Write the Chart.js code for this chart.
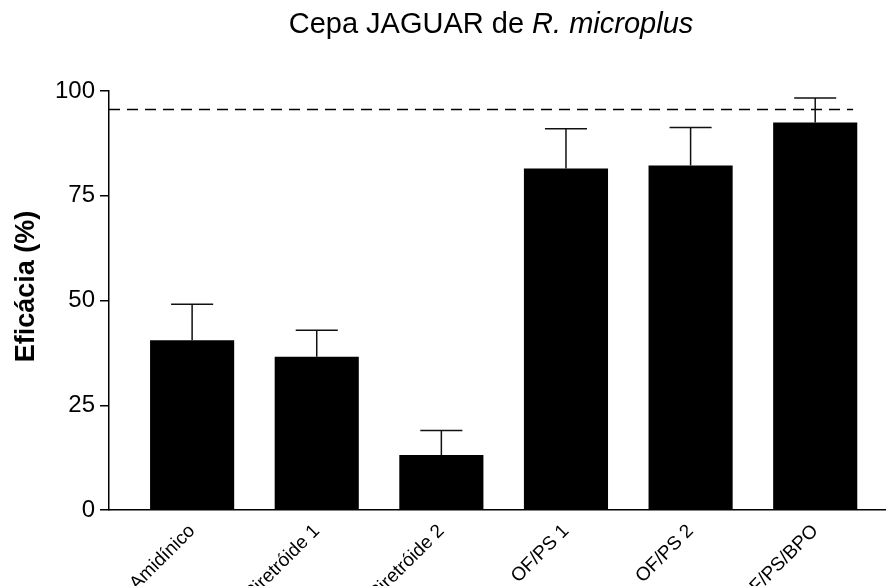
<!DOCTYPE html>
<html>
<head>
<meta charset="utf-8">
<script src="https://cdn.jsdelivr.net/npm/chart.js@4"></script>
<style>
  html, body { margin: 0; padding: 0; background: #fff; }
  #wrap { width: 887px; height: 586px; }
</style>
</head>
<body>
<div id="wrap"><canvas id="eficaciaChart"></canvas></div>
<script>
// dados: eficácia média (%) e desvio (só a barra superior)
const categorias = ['Amidínico', 'Piretróide 1', 'Piretróide 2', 'OF/PS 1', 'OF/PS 2', 'OF/PS/BPO'];
const eficacia = [40.5, 36.6, 13.1, 81.5, 82.2, 92.5];
const desvio = [8.6, 6.3, 5.9, 9.5, 9.1, 5.8];
const yTicks = [0, 25, 50, 75, 100];
const limiar = 95.6;

const FONTE = '"Liberation Sans", Arial, Helvetica, sans-serif';

// barras de erro, linha tracejada, títulos
const extras = {
  id: 'extras',
  afterDatasetsDraw(chart) {
    const { ctx, chartArea, scales: { x, y } } = chart;
    const meta = chart.getDatasetMeta(0);
    ctx.save();

    // linha de referência tracejada
    const ultima = meta.data[meta.data.length - 1];
    const yl = y.getPixelForValue(limiar);
    ctx.strokeStyle = '#000';
    ctx.lineWidth = 1.5;
    ctx.setLineDash([11, 7]);
    ctx.beginPath();
    ctx.moveTo(chartArea.left, yl);
    ctx.lineTo(ultima.x + ultima.width * 0.45, yl);
    ctx.stroke();
    ctx.setLineDash([]);

    // barras de erro (só para cima)
    ctx.strokeStyle = '#111';
    ctx.lineWidth = 1.5;
    meta.data.forEach((bar, i) => {
      const cx = x.getPixelForValue(i);
      const y0 = y.getPixelForValue(eficacia[i]);
      const y1 = y.getPixelForValue(eficacia[i] + desvio[i]);
      const half = bar.width / 4;
      ctx.beginPath();
      ctx.moveTo(cx, y0);
      ctx.lineTo(cx, y1);
      ctx.moveTo(cx - half, y1);
      ctx.lineTo(cx + half, y1);
      ctx.stroke();
    });

    // título do gráfico, com o nome da espécie em itálico
    const parte1 = 'Cepa JAGUAR de ';
    const parte2 = 'R. microplus';
    ctx.fillStyle = '#000';
    ctx.textBaseline = 'alphabetic';
    ctx.textAlign = 'left';
    ctx.font = '29px ' + FONTE;
    const w1 = ctx.measureText(parte1).width;
    ctx.font = 'italic 29px ' + FONTE;
    const w2 = ctx.measureText(parte2).width;
    const cx = (chartArea.left + chartArea.right) / 2 - 6;
    const tx = cx - (w1 + w2) / 2;
    ctx.font = '29px ' + FONTE;
    ctx.fillText(parte1, tx, 33);
    ctx.font = 'italic 29px ' + FONTE;
    ctx.fillText(parte2, tx + w1, 33);

    // título do eixo y
    ctx.translate(27, (chartArea.top + chartArea.bottom) / 2 - 14);
    ctx.rotate(-Math.PI / 2);
    ctx.textAlign = 'center';
    ctx.textBaseline = 'middle';
    ctx.font = 'bold 27px ' + FONTE;
    ctx.fillText('Eficácia (%)', 0, 0);

    ctx.restore();
  }
};

const ctx = document.getElementById('eficaciaChart');
new Chart(ctx, {
  type: 'bar',
  data: {
    datasets: [{
      label: 'Eficácia',
      data: eficacia.map((v, i) => ({ x: i, y: v })),
      backgroundColor: '#000',
      borderWidth: 0,
      barPercentage: 0.675,
      categoryPercentage: 1
    }]
  },
  options: {
    responsive: true,
    maintainAspectRatio: false,
    animation: false,
    layout: { padding: { top: 91, right: 2, left: 0, bottom: 0 } },
    plugins: {
      legend: { display: false },
      tooltip: { enabled: false }
    },
    scales: {
      x: {
        type: 'linear',
        offset: false,
        min: -0.667,
        max: 5.56,
        afterBuildTicks: (s) => { s.ticks = categorias.map((_, i) => ({ value: i })); },
        afterFit: (s) => { s.height = 76; },
        grid: { display: false },
        border: { display: true, color: '#000', width: 1.5 },
        ticks: {
          autoSkip: false,
          minRotation: 45,
          maxRotation: 45,
          padding: 2,
          color: '#000',
          font: { family: FONTE, size: 19 },
          callback: (v) => categorias[v] ?? ''
        }
      },
      y: {
        min: 0,
        max: 100,
        afterBuildTicks: (s) => { s.ticks = yTicks.map(v => ({ value: v })); },
        afterFit: (s) => { s.width = 109; },
        grid: {
          display: true,
          drawOnChartArea: false,
          drawTicks: true,
          tickLength: 9,
          color: '#000',
          lineWidth: 1.5
        },
        border: { display: true, color: '#000', width: 1.5 },
        ticks: {
          padding: 5,
          color: '#000',
          font: { family: FONTE, size: 24 }
        }
      }
    }
  },
  plugins: [extras]
});
</script>
</body>
</html>
